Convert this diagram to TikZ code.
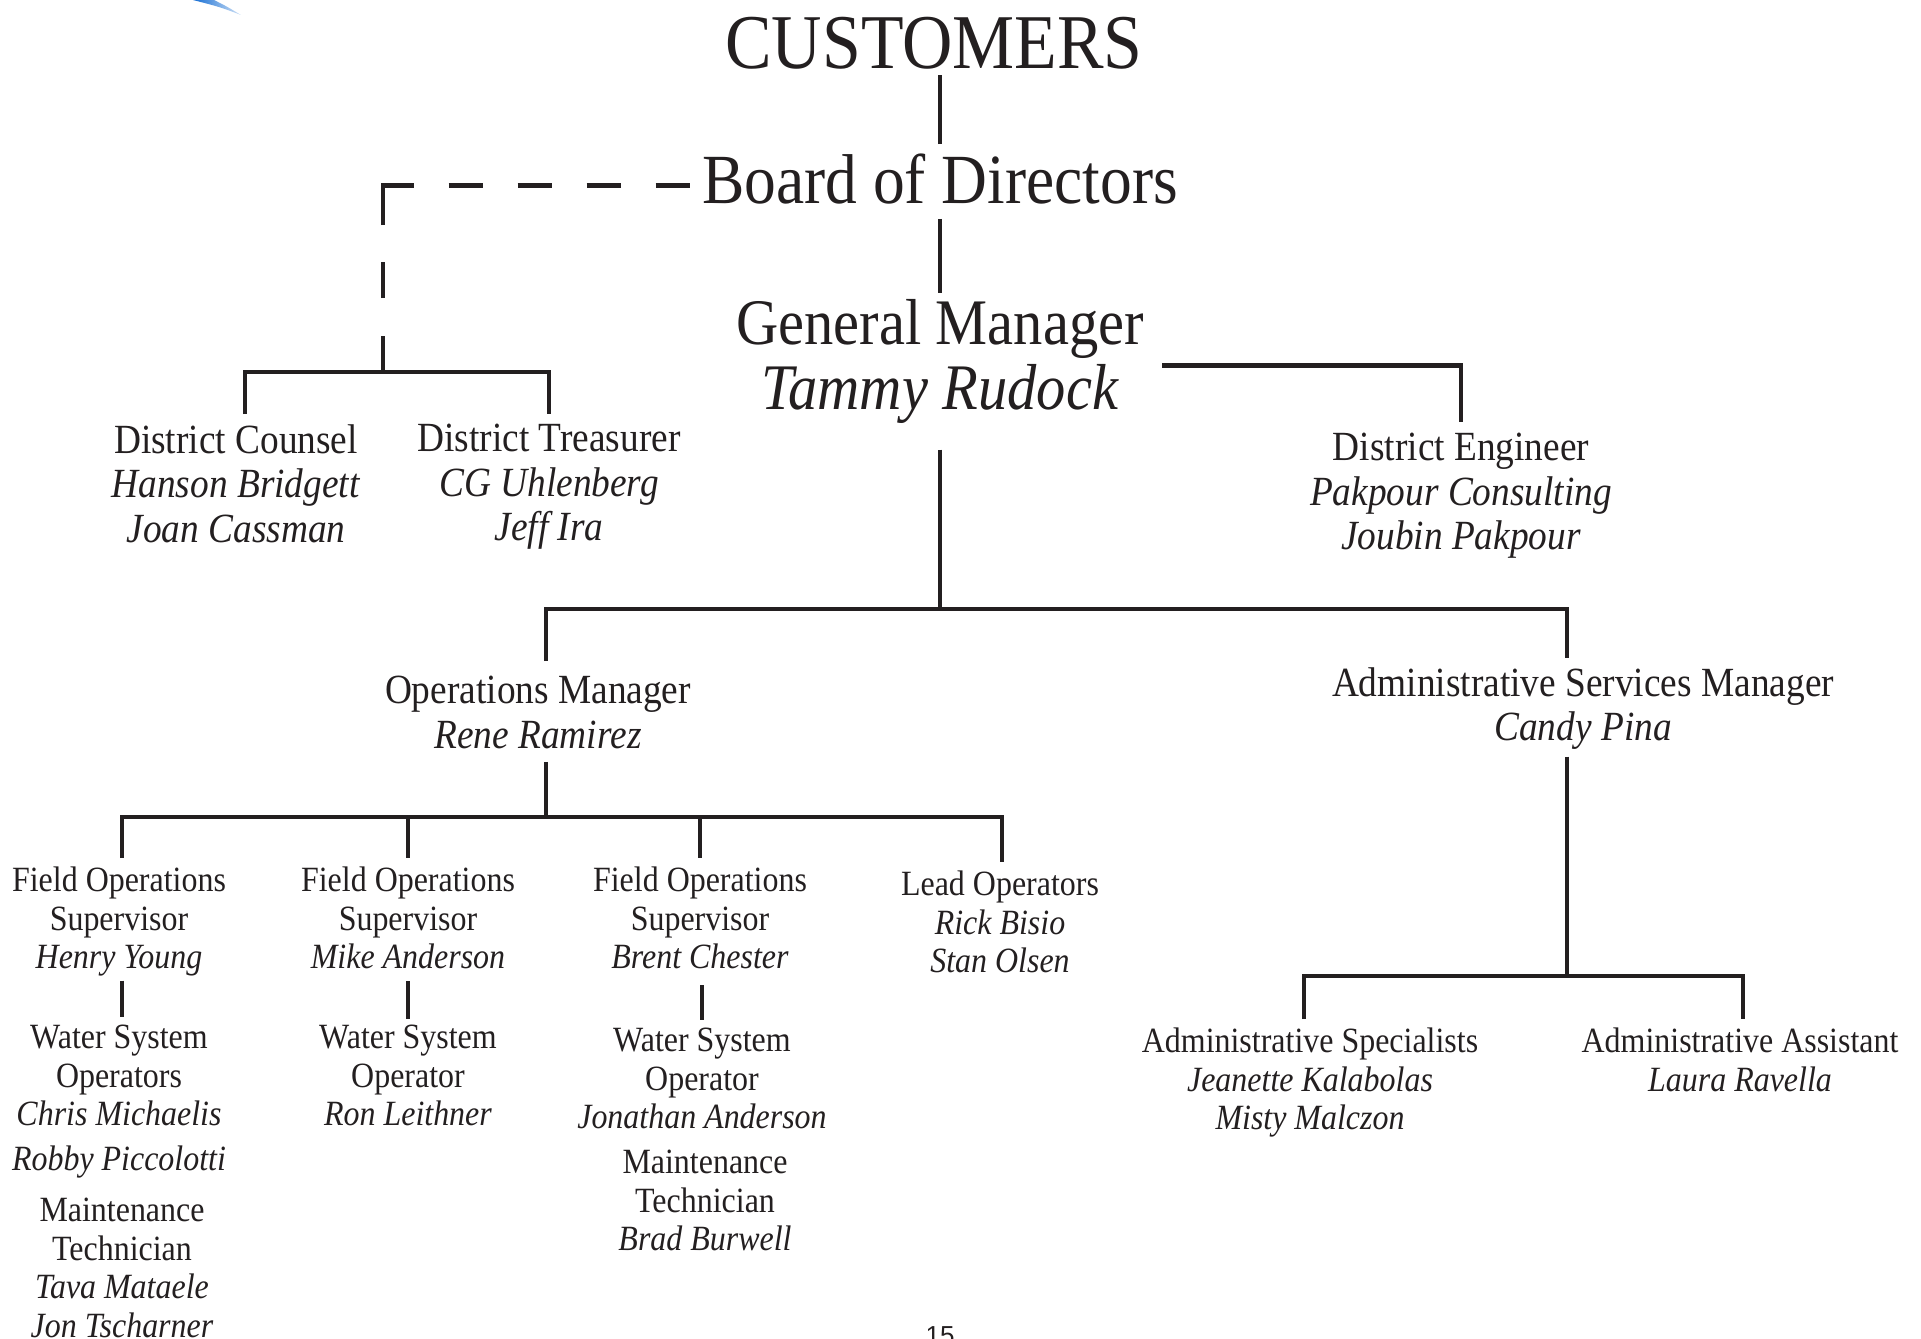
\documentclass[tikz,border=0pt]{standalone}
\usepackage{fontspec}
\setmainfont{Liberation Serif}[FakeStretch=0.9]
\newfontfamily\pagenumfont{Liberation Sans}
\usepackage{tikz}
\usetikzlibrary{calc, positioning}
\definecolor{ink}{RGB}{35,31,32}
\definecolor{swooshblue}{RGB}{22,110,212}
\tikzset{
  title/.style={
    inner sep=0pt, anchor=base, text=ink,
    font=\fontsize{70.5}{74}\selectfont
  },
  boss/.style={
    inner sep=0pt, anchor=north, align=center, text=ink,
    font=\fontsize{65}{65}\selectfont
  },
  office/.style={
    inner sep=0pt, anchor=north, align=center, text=ink,
    font=\fontsize{41.5}{44.5}\selectfont
  },
  staff/.style={
    inner sep=0pt, anchor=north, align=center, text=ink,
    font=\fontsize{35.5}{38.5}\selectfont
  },
  link/.style={
    line width=4.5pt, draw=ink
  },
  dashlink/.style={
    link, dash pattern=on 36pt off 38pt on 36pt off 37pt on 70pt off 35pt on 34pt off 35pt on 34pt off 35pt on 34pt off 35pt on 34pt off 40pt
  }
}

\begin{document}
\begin{tikzpicture}[x=1pt, y=-1pt]
\useasboundingbox (0,0) rectangle (1921,1338);
\shade[left color=swooshblue, right color=swooshblue!20] (193,0) -- (214,0) .. controls (226,6) .. (241,15) .. controls (220,7) .. (193,0) -- cycle;

\node[title, font=\fontsize{77.5}{80}\selectfont] (cust) at (934,68) {CUSTOMERS};
\node[title] (board) at (940,203) {Board of Directors};
\node[boss] (gm) at (940,299) {General Manager\\\textit{Tammy Rudock}};

\node[office] (counsel) at (236,424) {District Counsel\\\textit{Hanson Bridgett}\\\textit{Joan Cassman}};
\node[office] (treasurer) at (549,424) {District Treasurer\\\textit{CG Uhlenberg}\\\textit{Jeff Ira}};
\node[office] (engineer) at (1461,433) {District Engineer\\\textit{Pakpour Consulting}\\\textit{Joubin Pakpour}};
\node[office] (ops) at (538,676) {Operations Manager\\\textit{Rene Ramirez}};
\node[office] (adm) at (1583,667) {Administrative Services Manager\\\textit{Candy Pina}};

\node[staff] (fos1) at (119,867) {Field Operations\\Supervisor\\\textit{Henry Young}};
\node[staff] (fos2) at (408,867) {Field Operations\\Supervisor\\\textit{Mike Anderson}};
\node[staff] (fos3) at (700,867) {Field Operations\\Supervisor\\\textit{Brent Chester}};
\node[staff] (lead) at (1000,871) {Lead Operators\\\textit{Rick Bisio}\\\textit{Stan Olsen}};

\node[staff] (water1) at (119,1025) {Water System\\Operators\\\textit{Chris Michaelis}\\[6.5pt]\textit{Robby Piccolotti}};
\node[staff] (maint1) at (122,1198) {Maintenance\\Technician\\\textit{Tava Mataele}\\\textit{Jon Tscharner}};
\node[staff] (water2) at (408,1025) {Water System\\Operator\\\textit{Ron Leithner}};
\node[staff] (water3) at (702,1028) {Water System\\Operator\\\textit{Jonathan Anderson}};
\node[staff] (maint3) at (705,1150) {Maintenance\\Technician\\\textit{Brad Burwell}};

\node[staff] (spec) at (1310,1028) {Administrative Specialists\\\textit{Jeanette Kalabolas}\\\textit{Misty Malczon}};
\node[staff] (asst) at (1740,1028) {Administrative Assistant\\\textit{Laura Ravella}};

\node[inner sep=0pt, anchor=base, text=ink, font=\pagenumfont\fontsize{26}{28}\selectfont] (pagenum) at (940,1344) {15};

\coordinate (lawsplit) at (383,372);
\coordinate (split) at (940,609);
\coordinate (opssplit) at (546,817);
\coordinate (admsplit) at (1567,976);

\draw[link, shorten <=9pt, shorten >=6pt] (board.north) -- (board.north |- cust.south);
\draw[link, shorten <=15pt, shorten >=6pt] (board.south) -- (gm.north);
\draw[dashlink, shorten >=11pt] (lawsplit) |- ([yshift=-7pt]board.west);
\draw[link, shorten <=10pt, shorten >=10pt] ([xshift=9pt]counsel.north) |- (lawsplit) -| (treasurer.north);
\draw[link, shorten <=18pt, shorten >=11pt] ([yshift=-4pt]gm.east) -| (engineer.north);

\draw[link, shorten <=26pt] (gm.south) -- (split);
\draw[link, shorten <=15pt, shorten >=9pt] ([xshift=8pt]ops.north) |- (split) -| ([xshift=-16pt]adm.north);

\draw[link, shorten <=13pt] ([xshift=8pt]ops.south) -- (opssplit);
\draw[link, shorten <=9pt, shorten >=9pt] ([xshift=3pt]fos1.north) |- (opssplit) -| ([xshift=2pt]lead.north);
\foreach \col in {fos2,fos3}
  \draw[link, shorten >=9pt] (\col.north |- opssplit) -- (\col.north);

\draw[link, shorten <=4pt, shorten >=8pt] ([xshift=3pt]fos1.south) -- ([xshift=3pt]water1.north);
\draw[link, shorten <=12pt, shorten >=6pt] (fos2.south) -- (water2.north);
\draw[link, shorten <=16pt, shorten >=8pt] ([xshift=2pt]fos3.south) -- (water3.north);

\draw[link, shorten <=7pt] ([xshift=-16pt]adm.south) -- (admsplit);
\draw[link, shorten <=9pt, shorten >=9pt] ([xshift=-6pt]spec.north) |- (admsplit) -| ([xshift=3pt]asst.north);
\end{tikzpicture}
\end{document}
